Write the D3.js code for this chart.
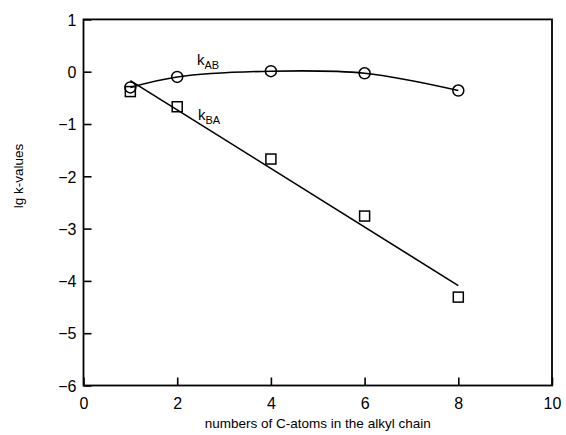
<!DOCTYPE html>
<html>
<head>
<meta charset="utf-8">
<script src="https://cdn.jsdelivr.net/npm/d3@7"></script>
<style>
  body { margin: 0; background: #fff; }
  text { font-family: "Liberation Sans", Arial, sans-serif; fill: #000; }
</style>
</head>
<body>
<div id="chart"></div>
<script>
// data
var carbons = [1, 2, 4, 6, 8];
var kAB = [-0.30, -0.10, 0.01, -0.03, -0.36];
var kBA = [-0.38, -0.67, -1.67, -2.76, -4.31];
// straight fit line for kBA (end points)
var fitX = [1, 8];
var fitY = [-0.17, -4.09];
var xTicks = [0, 2, 4, 6, 8, 10];
var yTicks = [1, 0, -1, -2, -3, -4, -5, -6];

window.onload = function () {
	var width = 566, height = 435;
	var left = 83.5, right = 552, top = 19.4, bottom = 385.5;

	var svg = d3.select('#chart').append('svg')
		.attr('width', width)
		.attr('height', height);

	var x = d3.scaleLinear().domain([0, 10]).range([left, right]);
	var y = d3.scaleLinear().domain([-6, 1]).range([bottom, top]);

	// frame
	svg.append('rect')
		.attr('x', x(0)).attr('y', y(1))
		.attr('width', x(10) - x(0)).attr('height', y(-6) - y(1))
		.attr('fill', 'none').attr('stroke', '#000').attr('stroke-width', 1.8);

	var fmt = function (d) { return d < 0 ? '\u2212' + Math.abs(d) : String(d); };

	var xAxis = svg.append('g')
		.attr('transform', 'translate(0,' + bottom + ')')
		.call(d3.axisBottom(x).tickValues(xTicks).tickSize(-8).tickPadding(12).tickFormat(fmt));
	var yAxis = svg.append('g')
		.attr('transform', 'translate(' + left + ',0)')
		.call(d3.axisLeft(y).tickValues(yTicks).tickSize(-8).tickPadding(7).tickFormat(fmt));

	[xAxis, yAxis].forEach(function (g) {
		g.select('.domain').remove();
		g.selectAll('.tick line').attr('stroke', '#000').attr('stroke-width', 1.6);
		g.selectAll('.tick text').style('font-size', '16px').attr('fill', '#000');
		g.attr('font-family', null);
	});
	xAxis.selectAll('.tick text').attr('dy', '0.71em');
	yAxis.selectAll('.tick text').attr('dy', '0.36em');

	// axis titles
	svg.append('text')
		.attr('x', (x(0) + x(10)) / 2).attr('y', 428)
		.attr('text-anchor', 'middle')
		.style('font-size', '13.5px')
		.text('numbers of C-atoms in the alkyl chain');
	svg.append('text')
		.attr('transform', 'translate(23,176) rotate(-90)')
		.attr('text-anchor', 'middle')
		.style('font-size', '13.5px')
		.text('lg k-values');

	// kBA fit line
	var line = d3.line().x(function (d) { return x(d[0]); }).y(function (d) { return y(d[1]); });
	svg.append('path')
		.attr('d', line(d3.zip(fitX, fitY)))
		.attr('fill', 'none').attr('stroke', '#000').attr('stroke-width', 1.6);

	// kAB curve
	var curve = d3.line().curve(d3.curveCatmullRom)
		.x(function (d) { return x(d[0]); }).y(function (d) { return y(d[1]); });
	svg.append('path')
		.attr('d', curve(d3.zip(carbons, kAB)))
		.attr('fill', 'none').attr('stroke', '#000').attr('stroke-width', 1.6);

	// markers
	svg.selectAll('.sq').data(d3.zip(carbons, kBA)).enter().append('rect')
		.attr('class', 'sq')
		.attr('x', function (d) { return x(d[0]) - 5; })
		.attr('y', function (d) { return y(d[1]) - 5; })
		.attr('width', 10).attr('height', 10)
		.attr('fill', 'none').attr('stroke', '#000').attr('stroke-width', 1.5);

	svg.selectAll('.ci').data(d3.zip(carbons, kAB)).enter().append('circle')
		.attr('class', 'ci')
		.attr('cx', function (d) { return x(d[0]); })
		.attr('cy', function (d) { return y(d[1]); })
		.attr('r', 5.5)
		.attr('fill', 'none').attr('stroke', '#000').attr('stroke-width', 1.5);

	// series labels
	function label(px, py, sub) {
		var t = svg.append('text').attr('x', px).attr('y', py).style('font-size', '15px');
		t.append('tspan').text('k');
		t.append('tspan').attr('dy', 4).style('font-size', '11px').text(sub);
	}
	label(197, 65, 'AB');
	label(198, 120, 'BA');
};
</script>
</body>
</html>
